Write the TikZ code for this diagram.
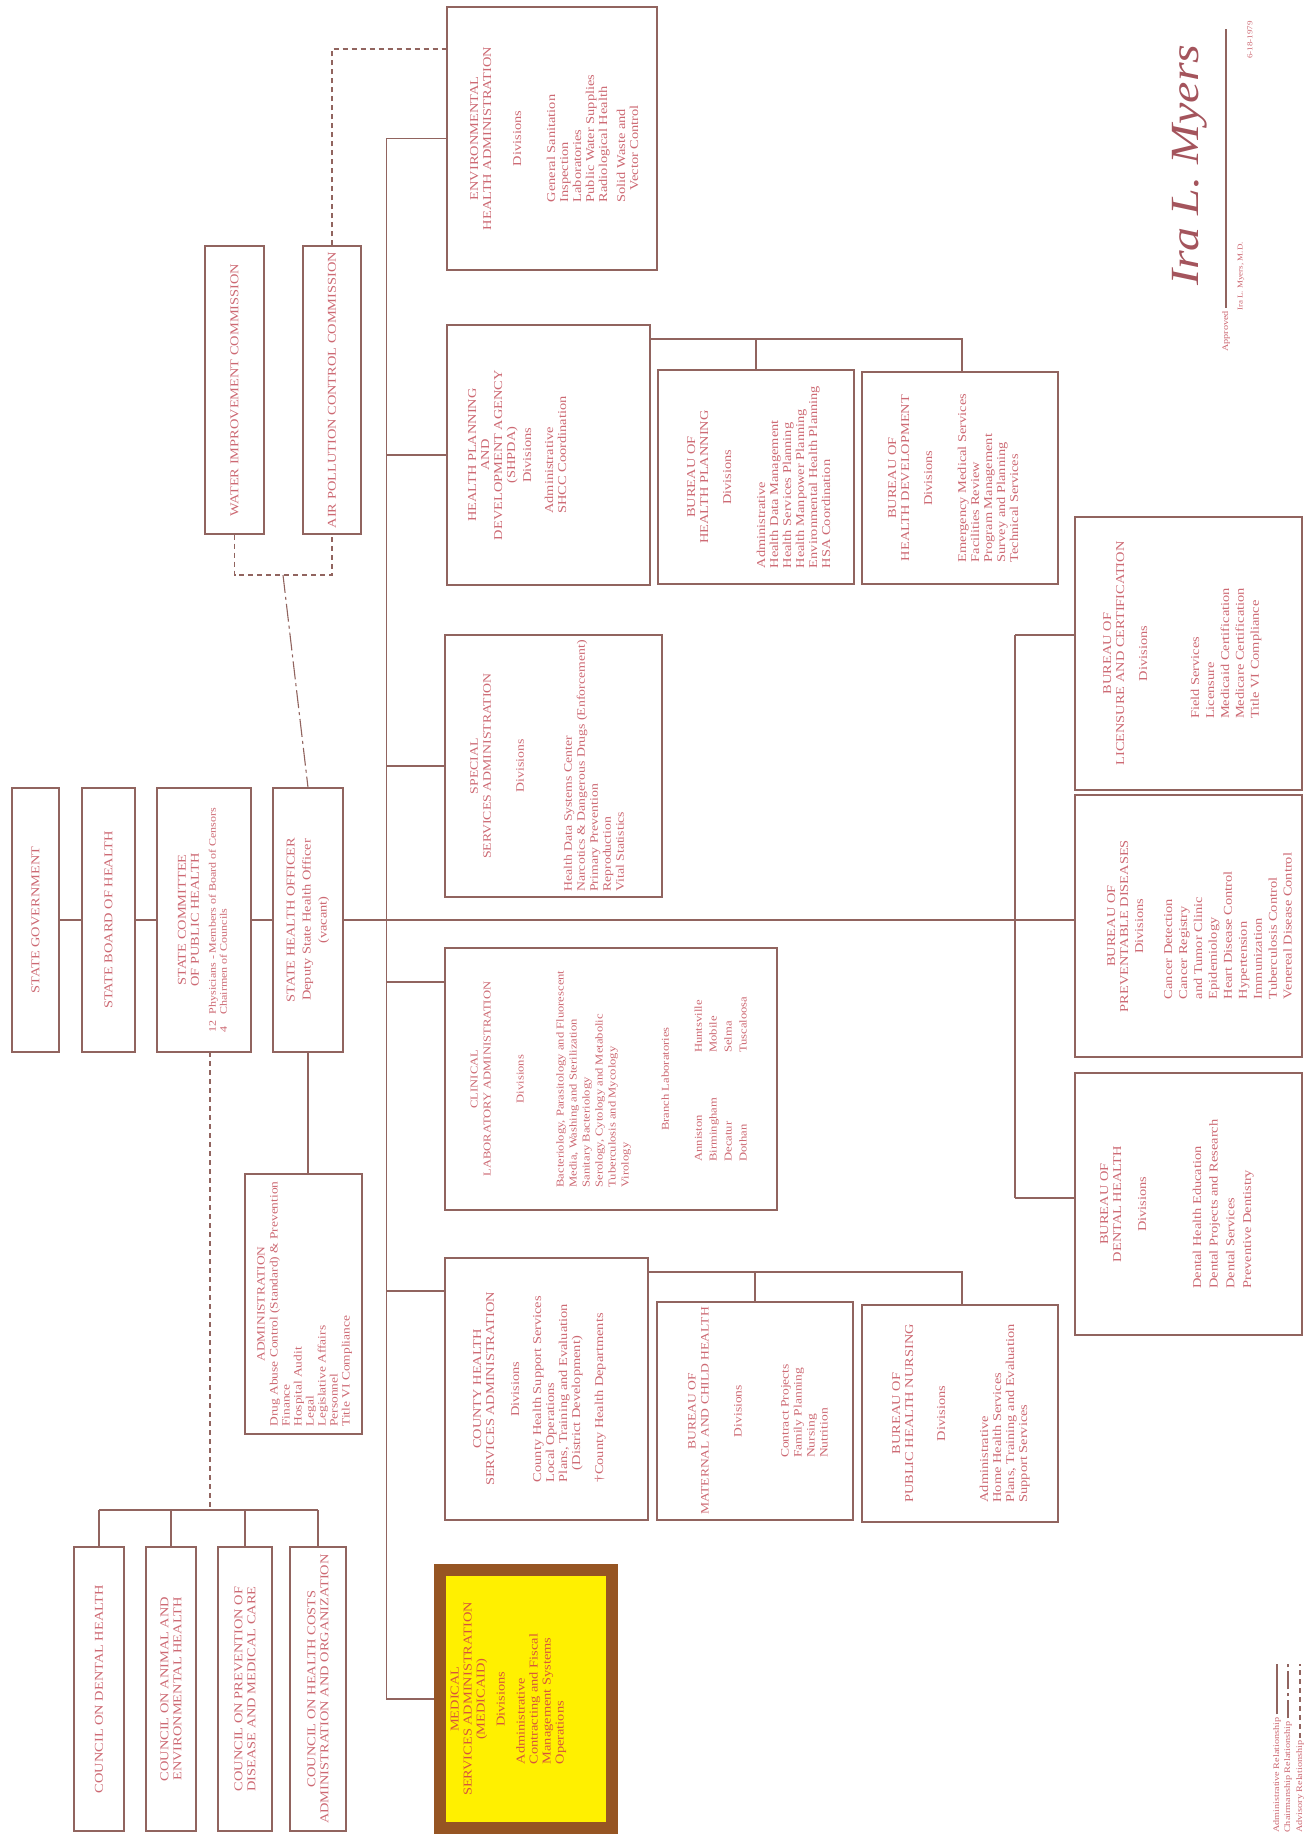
\documentclass[tikz,border=0pt]{standalone}
\usepackage{fontspec}
\setmainfont{Liberation Serif}[FakeStretch=1.2]
\usetikzlibrary{calc,fit}
\definecolor{txtc}{RGB}{205,105,115}
\definecolor{lnc}{RGB}{145,100,95}
\definecolor{brownb}{RGB}{150,85,35}
\definecolor{yelc}{RGB}{255,240,0}
\definecolor{medtxt}{RGB}{215,85,60}
\newcommand\itemsl[1]{\begin{tabular}[t]{@{}l@{}}#1\end{tabular}}
\begin{document}
\begin{tikzpicture}[x=1pt,y=-1pt,
  box/.style={draw=lnc, line width=1.1pt, inner sep=0pt},
  lbl/.style={rotate=90, text=txtc, align=center, inner sep=0pt, font=\fontsize{12}{13}\selectfont},
  conn/.style={draw=lnc, line width=1.1pt},
  adv/.style={conn, dash pattern=on 5pt off 4pt},
  chair/.style={conn, dash pattern=on 18pt off 4pt on 3pt off 4pt},
]
\fill[white] (0,0) rectangle (1312,1840);
\useasboundingbox (0,0) rectangle (1312,1840);

% column of governing bodies
\node[box, fit={(12,788) (59,1052)}] (gov) {};
\node[box, fit={(82,788) (135,1052)}] (board) {};
\node[box, fit={(157,788) (251,1052)}] (comm) {};
\node[box, fit={(273,788) (343,1052)}] (off) {};
\node[lbl] (govt) at (gov) {STATE GOVERNMENT};
\node[lbl] (boardt) at (board) {STATE BOARD OF HEALTH};
\node[lbl] (commt) at (comm) {STATE COMMITTEE\\OF PUBLIC HEALTH\\[4pt]{\fontsize{10}{11}\selectfont\begin{tabular}[t]{@{}l@{\ \ }l@{}}12&Physicians - Members of Board of Censors\\4&Chairmen of Councils\end{tabular}}};
\node[lbl] (offt) at (off) {STATE HEALTH OFFICER\\[3pt]Deputy State Health Officer\\[3pt](vacant)};

% commissions
\node[box, fit={(205,246) (264,534)}] (water) {};
\node[box, fit={(303,246) (361,534)}] (air) {};
\node[lbl] (watert) at (water) {WATER IMPROVEMENT COMMISSION};
\node[lbl] (airt) at (air) {AIR POLLUTION CONTROL COMMISSION};

% administration
\node[box, fit={(245,1174) (362,1434)}] (admin) {};
\node[lbl, anchor=north, font=\fontsize{11.2}{12}\selectfont] (admint) at ([xshift=12.5pt]admin.west) {ADMINISTRATION\\[1pt]\itemsl{Drug Abuse Control (Standard) \& Prevention\\Finance\\Hospital Audit\\Legal\\Legislative Affairs\\Personnel\\Title VI Compliance}};

% councils
\node[box, fit={(74,1547) (124,1831)}] (c1) {};
\node[box, fit={(146,1547) (196,1831)}] (c2) {};
\node[box, fit={(218,1547) (272,1831)}] (c3) {};
\node[box, fit={(290,1547) (346,1831)}] (c4) {};
\node[lbl] (c1t) at (c1) {COUNCIL ON DENTAL HEALTH};
\node[lbl] (c2t) at (c2) {COUNCIL ON ANIMAL AND\\ENVIRONMENTAL HEALTH};
\node[lbl] (c3t) at (c3) {COUNCIL ON PREVENTION OF\\DISEASE AND MEDICAL CARE};
\node[lbl] (c4t) at (c4) {COUNCIL ON HEALTH COSTS\\ADMINISTRATION AND ORGANIZATION};

% administrations
\node[box, fit={(447,7) (657,270)}] (env) {};
\node[box, fit={(447,325) (650,585)}] (shpda) {};
\node[box, fit={(658,370) (854,584)}] (hp) {};
\node[box, fit={(862,372) (1058,584)}] (hd) {};
\node[box, fit={(445,635) (662,897)}] (spec) {};
\node[box, fit={(445,948) (777,1210)}] (clin) {};
\node[box, fit={(445,1258) (648,1520)}] (county) {};
\node[box, fit={(657,1302) (853,1520)}] (mch) {};
\node[box, fit={(862,1305) (1058,1522)}] (phn) {};
\node[draw=brownb, fill=yelc, line width=12pt, inner sep=0pt, fit={(440,1570) (612,1828)}] (med) {};
\node[box, fit={(1075,517) (1302,790)}] (lic) {};
\node[box, fit={(1075,795) (1302,1057)}] (prev) {};
\node[box, fit={(1075,1073) (1302,1335)}] (dent) {};

\node[lbl, anchor=north] (envt) at ([xshift=23.5pt]env.west) {ENVIRONMENTAL\\HEALTH ADMINISTRATION\\[17pt]Divisions\\[21pt]\itemsl{General Sanitation\\Inspection\\Laboratories\\Public Water Supplies\\Radiological Health\\[5pt]Solid Waste and\\\quad Vector Control}};
\node[lbl, anchor=north] (shpdat) at ([xshift=21.5pt]shpda.west) {HEALTH PLANNING\\AND\\DEVELOPMENT AGENCY\\(SHPDA)\\[3pt]Divisions\\[9pt]\itemsl{Administrative\\SHCC Coordination}};
\node[lbl, anchor=north] (hpt) at ([xshift=29.5pt]hp.west) {BUREAU OF\\HEALTH PLANNING\\[10pt]Divisions\\[21pt]\itemsl{Administrative\\Health Data Management\\Health Services Planning\\Health Manpower Planning\\Environmental Health Planning\\HSA Coordination}};
\node[lbl, anchor=north] (hdt) at ([xshift=26.5pt]hd.west) {BUREAU OF\\HEALTH DEVELOPMENT\\[10pt]Divisions\\[21pt]\itemsl{Emergency Medical Services\\Facilities Review\\Program Management\\Survey and Planning\\Technical Services}};
\node[lbl, anchor=north, font=\fontsize{11.5}{13}\selectfont] (spect) at ([xshift=25.5pt]spec.west) {SPECIAL\\SERVICES ADMINISTRATION\\[20pt]Divisions\\[35pt]\itemsl{Health Data Systems Center\\Narcotics \& Dangerous Drugs (Enforcement)\\Primary Prevention\\Reproduction\\Vital Statistics}};
\node[lbl, anchor=north, font=\fontsize{10.5}{13}\selectfont] (clint) at ([xshift=26pt]clin.west) {CLINICAL\\LABORATORY ADMINISTRATION\\[20pt]Divisions\\[27pt]\itemsl{Bacteriology, Parasitology and Fluorescent\\Media, Washing and Sterilization\\Sanitary Bacteriology\\Serology, Cytology and Metabolic\\Tuberculosis and Mycology\\Virology}\\[28pt]Branch Laboratories\\[20pt]{\def\arraystretch{1.15}\begin{tabular}[t]{@{}l@{\hspace{45pt}}l@{}}Anniston&Huntsville\\Birmingham&Mobile\\Decatur&Selma\\Dothan&Tuscaloosa\end{tabular}}};
\node[lbl, anchor=north] (countyt) at ([xshift=28.5pt]county.west) {COUNTY HEALTH\\SERVICES ADMINISTRATION\\[12pt]Divisions\\[9pt]\itemsl{County Health Support Services\\Local Operations\\Plans, Training and Evaluation\\\quad(District Development)\\[10pt]\textdagger County Health Departments}};
\node[lbl, anchor=north, font=\fontsize{11.3}{13}\selectfont] (mcht) at ([xshift=31.5pt]mch.west) {BUREAU OF\\MATERNAL AND CHILD HEALTH\\[20pt]Divisions\\[34pt]\itemsl{Contract Projects\\Family Planning\\Nursing\\Nutrition}};
\node[lbl, anchor=north] (phnt) at ([xshift=30.5pt]phn.west) {BUREAU OF\\PUBLIC HEALTH NURSING\\[19pt]Divisions\\[30pt]\itemsl{Administrative\\Home Health Services\\Plans, Training and Evaluation\\Support Services}};
\node[lbl, anchor=north, text=medtxt] (medt) at ([xshift=16.5pt]med.west) {MEDICAL\\SERVICES ADMINISTRATION\\(MEDICAID)\\[7pt]Divisions\\[7pt]\itemsl{Administrative\\Contracting and Fiscal\\Management Systems\\Operations}};
\node[lbl, anchor=north] (lict) at ([xshift=28.5pt]lic.west) {BUREAU OF\\LICENSURE AND CERTIFICATION\\[10pt]Divisions\\[39pt]{\def\arraystretch{1.15}\itemsl{Field Services\\Licensure\\Medicaid Certification\\Medicare Certification\\Title VI Compliance}}};
\node[lbl, anchor=north] (prevt) at ([xshift=32.5pt]prev.west) {BUREAU OF\\PREVENTABLE DISEASES\\[2pt]Divisions\\[16pt]{\def\arraystretch{1.15}\itemsl{Cancer Detection\\Cancer Registry\\and Tumor Clinic\\Epidemiology\\Heart Disease Control\\Hypertension\\Immunization\\Tuberculosis Control\\Venereal Disease Control}}};
\node[lbl, anchor=north] (dentt) at ([xshift=25.5pt]dent.west) {BUREAU OF\\DENTAL HEALTH\\[12pt]Divisions\\[42pt]{\def\arraystretch{1.28}\itemsl{Dental Health Education\\Dental Projects and Research\\Dental Services\\Preventive Dentistry}}};

% connectors, governing column
\draw[conn] (gov.east) -- (board.west);
\draw[conn] (board.east) -- (comm.west);
\draw[conn] (comm.east) -- (off.west);
\draw[conn] (off.east) -- (off.east -| prev.west);
\draw[conn] (off.south) -- (off.south |- admin.north);

% administrations bus
\coordinate (busT) at ($(env.west)+(-60,0)$);
\coordinate (busB) at (busT |- med.west);
\draw[conn] (busT) -- (busB) -- (med.west);
\draw[conn] (busT) -- (env.west);
\draw[conn] (busT |- shpda.west) -- (shpda.west);
\draw[conn] (busT |- spec.west) -- (spec.west);
\coordinate (sClin) at (387,982);
\draw[conn] (sClin) -- (sClin -| clin.west);
\coordinate (sCounty) at (387,1291);
\draw[conn] (sCounty) -- (sCounty -| county.west);

% SHPDA bureaus
\coordinate (shL) at (650,339);
\coordinate (shR) at (962,339);
\draw[conn] (shL) -- (shR) -- (shR |- hd.north);
\draw[conn] (shL -| hp.north) -- (hp.north);
% county bureaus
\coordinate (coL) at (648,1272);
\coordinate (coR) at (962,1272);
\draw[conn] (coL) -- (coR) -- (coR |- phn.north);
\draw[conn] (coL -| mch.north) -- (mch.north);

% bureaus under officer
\coordinate (bT) at (1015,635);
\coordinate (bB) at (1015,1198);
\draw[conn] (bT) -- (bB);
\draw[conn] (bT) -- (bT -| lic.west);
\draw[conn] (bB) -- (bB -| dent.west);

% commissions
\coordinate (brk) at (283,575);
\draw[adv] (water.south) -- (water.south |- brk) -- (air.south |- brk) -- (air.south);
\draw[chair] (brk) -- (off.north);
\coordinate (envd) at (447,49);
\draw[adv] (air.north) -- (air.north |- envd) -- (envd);

% councils
\coordinate (cbar) at (0,1510);
\coordinate (cdash) at (210,1052);
\draw[conn] (c1.north |- cbar) -- (c4.north |- cbar);
\draw[conn] (c1.north |- cbar) -- (c1.north);
\draw[conn] (c2.north |- cbar) -- (c2.north);
\draw[conn] (c3.north |- cbar) -- (c3.north);
\draw[conn] (c4.north |- cbar) -- (c4.north);
\draw[adv] (cdash) -- (cdash |- cbar);

% legend
\node[lbl, anchor=west, font=\fontsize{8.5}{10}\selectfont] (legA) at (1277,1833) {Administrative Relationship};
\node[lbl, anchor=west, font=\fontsize{8.5}{10}\selectfont] (legC) at (1288,1833) {Chairmanship Relationship};
\node[lbl, anchor=west, font=\fontsize{8.5}{10}\selectfont] (legV) at (1300,1833) {Advisory Relationship};
\coordinate (legEnd) at (0,1664);
\draw[conn] ([yshift=3pt]legA.east) -- (legA.east |- legEnd);
\draw[chair] ([yshift=3pt]legC.east) -- (legC.east |- legEnd);
\draw[adv] ([yshift=3pt]legV.east) -- (legV.east |- legEnd);

% approval
\node[lbl, anchor=west, font=\fontsize{8.5}{10}\selectfont] (appr) at (1226,352) {Approved};
\coordinate (sigEnd) at (0,29);
\draw[conn] ([yshift=3pt]appr.east) -- (appr.east |- sigEnd);
\node[lbl, anchor=west, font=\fontsize{7.5}{9}\selectfont] (signame) at (1241,311) {Ira L. Myers, M.D.};
\node[lbl, anchor=west, font=\fontsize{7.5}{9}\selectfont] (sigdate) at (1250,59) {6-18-1979};
\node[lbl, font=\fontsize{40}{40}\itshape\selectfont, text=txtc!80!black] (sig) at (1190,165) {Ira L. Myers};
\end{tikzpicture}
\end{document}
